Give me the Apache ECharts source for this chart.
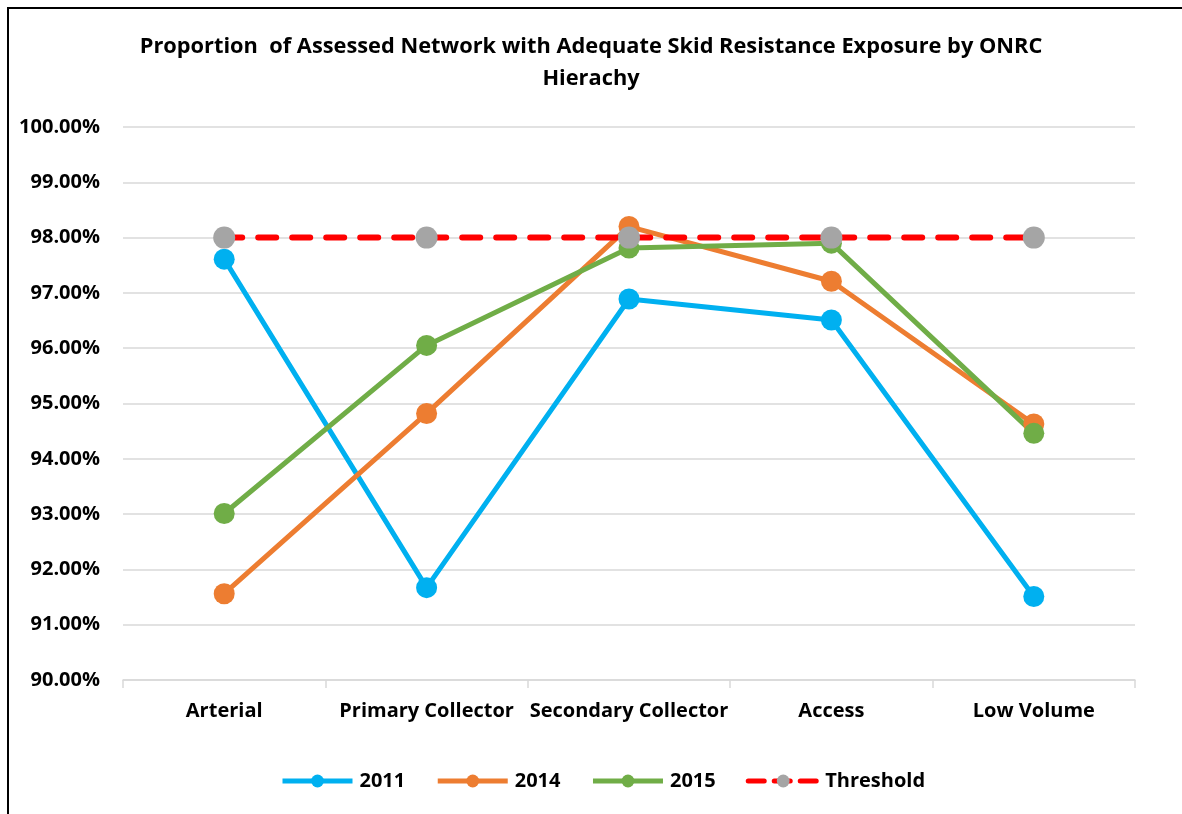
<!DOCTYPE html>
<html>
<head>
<meta charset="utf-8">
<script src="https://cdn.jsdelivr.net/npm/echarts@6/dist/echarts.min.js"></script>
<style>
    body { margin: 0; background: #fff; }
    #chart { width: 1182px; height: 814px; }
    /* frame lines at top and left like the source screenshot */
    #frame { position: absolute; left: 7px; top: 7px; width: 1175px; height: 807px;
             border-left: 2px solid #000; border-top: 2px solid #000; pointer-events: none; }
</style>
</head>
<body>
<div id="chart"></div>
<div id="frame"></div>
<script>
    // categories (ONRC hierarchy)
    var categories = ['Arterial', 'Primary Collector', 'Secondary Collector', 'Access', 'Low Volume'];
    // values, in %
    var data2011 = [97.61, 91.67, 96.89, 96.51, 91.51];
    var data2014 = [91.56, 94.82, 98.20, 97.21, 94.63];
    var data2015 = [93.01, 96.05, 97.81, 97.90, 94.46];
    var threshold = [98, 98, 98, 98, 98];

    var font = '"Open Sans", sans-serif';

    function lineSeries(name, data, color) {
        return {
            name: name,
            type: 'line',
            data: data,
            symbol: 'circle',
            symbolSize: 21,
            lineStyle: { color: color, width: 5 },
            itemStyle: { color: color },
            emphasis: { disabled: true }
        };
    }

    var chart = echarts.init(document.getElementById('chart'));
    var option = {
        animation: false,
        title: {
            text: 'Proportion  of Assessed Network with Adequate Skid Resistance Exposure by ONRC\nHierachy',
            left: 'center',
            top: 26,
            textStyle: { fontFamily: font, fontSize: 21.8, fontWeight: 'bold', color: '#000', lineHeight: 32 }
        },
        legend: {
            top: 766,
            left: 275,
            itemWidth: 70,
            itemHeight: 16,
            itemGap: 30,
            lineStyle: { width: 5 },
            textStyle: { fontFamily: font, fontSize: 20, fontWeight: 'bold', color: '#000', padding: [0, 0, 0, 2] },
            data: [
                { name: '2011' },
                { name: '2014' },
                { name: '2015' },
                { name: 'Threshold', lineStyle: { type: [16, 10], width: 5 } }
            ]
        },
        grid: { left: 123, right: 47, top: 127, bottom: 134 },
        xAxis: {
            type: 'category',
            data: categories,
            boundaryGap: true,
            axisLine: { lineStyle: { color: '#d9d9d9', width: 1.5 } },
            axisTick: { show: true, length: 8, lineStyle: { color: '#d9d9d9', width: 1.5 } },
            axisLabel: { interval: 0, fontFamily: font, fontSize: 20, fontWeight: 'bold', color: '#000', margin: 21 }
        },
        yAxis: {
            type: 'value',
            min: 90,
            max: 100,
            interval: 1,
            axisLine: { show: false },
            axisTick: { show: false },
            splitLine: { lineStyle: { color: '#d9d9d9', width: 1.5 } },
            axisLabel: {
                fontFamily: font, fontSize: 20, fontWeight: 'bold', color: '#000', margin: 23,
                formatter: function (v) { return v.toFixed(2) + '%'; }
            }
        },
        series: [
            lineSeries('2011', data2011, '#00b0f0'),
            lineSeries('2014', data2014, '#ed7d31'),
            lineSeries('2015', data2015, '#70ad47'),
            {
                name: 'Threshold',
                type: 'line',
                data: threshold,
                symbol: 'circle',
                symbolSize: 22,
                lineStyle: { color: '#ff0000', width: 6, type: [18, 16], cap: 'round' },
                itemStyle: { color: '#a5a5a5' },
                emphasis: { disabled: true }
            }
        ]
    };
    chart.setOption(option);
</script>
</body>
</html>
